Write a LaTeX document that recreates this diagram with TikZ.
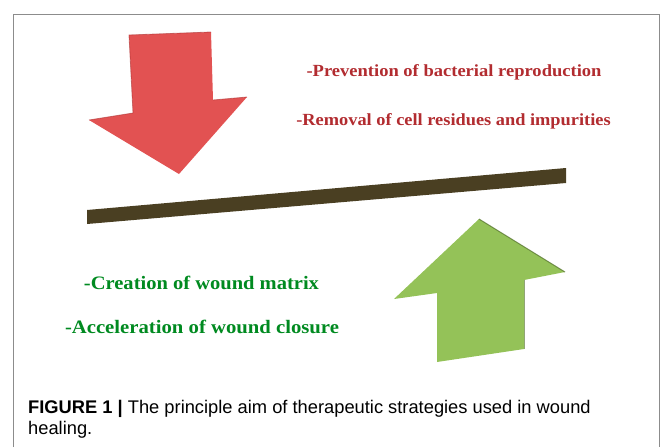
\documentclass[tikz,border=0pt]{standalone}
\usepackage{graphicx}
\usepackage{fontspec}
\setmainfont{Liberation Serif}
\newfontfamily\capfont{Liberation Sans}
\definecolor{redarrow}{RGB}{226,82,82}
\definecolor{redshade}{RGB}{176,52,52}
\definecolor{greenarrow}{RGB}{148,194,88}
\definecolor{greenshade}{RGB}{80,110,40}
\definecolor{barcol}{RGB}{74,63,34}
\definecolor{redtext}{RGB}{178,44,48}
\definecolor{greentext}{RGB}{0,138,32}
\definecolor{framecol}{RGB}{140,140,140}
\begin{document}
\begin{tikzpicture}[x=1pt,y=-1pt,
  redlabel/.style={font=\fontsize{17}{19}\selectfont\bfseries, text=redtext, inner sep=0pt},
  greenlabel/.style={font=\fontsize{19}{21}\selectfont\bfseries, text=greentext, inner sep=0pt},
  captext/.style={font=\capfont\fontsize{18.3}{21}\selectfont, anchor=base west, inner sep=0pt, align=left}]
\useasboundingbox (0,0) rectangle (663,447);
% frame
\draw[framecol, line width=1pt] (13,447) -- (13,14) -- (659,14) -- (659,447);
% red arrow
\fill[redarrow] (129,35) -- (211,32) -- (213,100) -- (247,97) -- (179,174) -- (89,120) -- (133,113) -- cycle;
\draw[redshade, line width=0.8pt, opacity=0.6] (133,113) -- (129,35) -- (211,32);
\draw[redshade, line width=0.8pt, opacity=0.6] (89,120) -- (133,113);
\draw[redshade, line width=0.8pt, opacity=0.6] (213,100) -- (247,97);
% bar
\fill[barcol] (87,210) -- (566,168) -- (566,183) -- (87,224) -- cycle;
% green arrow
\fill[greenarrow] (479,219) -- (565,272) -- (524,280) -- (524,349) -- (437,362) -- (437,293) -- (394,299) -- cycle;
\draw[greenshade, line width=1pt, opacity=0.7] (479,219) -- (565,272);
\draw[greenshade, line width=0.8pt, opacity=0.6] (524,280) -- (524,349);
% texts
\node[redlabel] (t1) at (454,72) {\scalebox{1.09}[1]{-Prevention of bacterial reproduction}};
\node[redlabel] (t2) at (453.5,121) {\scalebox{1.08}[1]{-Removal of cell residues and impurities}};
\node[greenlabel] (t3) at (201.5,283) {\scalebox{1.08}[1]{-Creation of wound matrix}};
\node[greenlabel] (t4) at (202,327) {\scalebox{1.09}[1]{-Acceleration of wound closure}};
% caption
\node[captext] (cap) at (28,434) {\textbf{FIGURE 1 |} The principle aim of therapeutic strategies used in wound\\healing.};
\end{tikzpicture}
\end{document}
